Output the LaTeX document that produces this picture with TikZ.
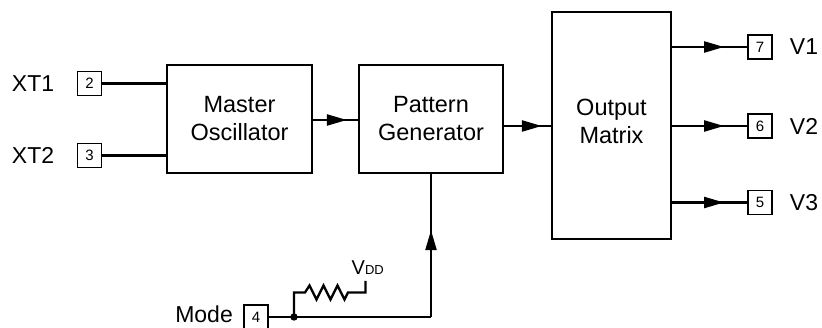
\documentclass[tikz,border=0pt]{standalone}
\usepackage{fontspec}
\setmainfont{Liberation Sans}
\usetikzlibrary{arrows.meta,decorations.markings,calc}
\tikzset{
  blk/.style={draw, line width=2.3pt, inner sep=0pt, align=center,
    font=\fontsize{23.5}{28}\selectfont},
  pin/.style={draw, line width=1.9pt, minimum width=24pt, minimum height=24pt,
    inner sep=0pt, font=\fontsize{15}{15}\selectfont},
  lbl/.style={font=\fontsize{23}{23}\selectfont, inner sep=0pt},
  wire/.style={line width=2.3pt},
  midarrow/.style={postaction={decorate}, decoration={markings,
    mark=at position #1 with {\arrow{Triangle[length=20pt,width=11pt]}}}},
}
\begin{document}
\begin{tikzpicture}[x=1pt,y=-1pt]
\useasboundingbox (0,0) rectangle (822,328);
% blocks
\node[blk, minimum width=145pt, minimum height=108pt] (mo) at (239.5,119) {Master\\Oscillator};
\node[blk, minimum width=144pt, minimum height=108pt] (pg) at (431,119) {Pattern\\Generator};
\node[blk, minimum width=119pt, minimum height=227pt] (om) at (611.5,125.5) {};
\node[blk, draw=none] (omt) at (611.5,121) {Output\\Matrix};
% input pins
\node[pin] (p2) at (89.5,83.5) {2};
\node[pin] (p3) at (89.5,155.5) {3};
\node[lbl] (xt1) at (33,83.5) {XT1};
\node[lbl] (xt2) at (33,155.5) {XT2};
% output pins
\node[pin] (p7) at (760,47) {7};
\node[pin] (p6) at (760,126) {6};
\node[pin] (p5) at (760,202.5) {5};
\node[lbl] (v1) at (804,47) {V1};
\node[lbl] (v2) at (804,126) {V2};
\node[lbl] (v3) at (804,202.5) {V3};
% mode pin
\node[pin] (p4) at (256,317) {4};
\node[lbl, anchor=east] (mode) at (233,314.5) {Mode};
% connectors
\draw[wire] (p2.east) -- (p2.east -| mo.west);
\draw[wire] (p3.east) -- (p3.east -| mo.west);
\draw[wire, midarrow=-11pt] (mo.east |- 0,120) coordinate (a1) -- (a1 -| pg.west);
\draw[wire, midarrow=-9pt] (pg.east |- 0,126) coordinate (a2) -- (a2 -| om.west);
\draw[wire, midarrow=-23pt] (om.east |- p7.west) -- (p7.west);
\draw[wire, midarrow=-23pt] (om.east |- p6.west) -- (p6.west);
\draw[wire, midarrow=-23pt] (om.east |- p5.west) -- (p5.west);
% mode line
\coordinate (dot) at (294,317);
\coordinate (corner) at (pg.south |- dot);
\draw[wire] (p4.east) -- (dot) -- (corner);
\draw[wire, midarrow=-56pt] (corner) -- (pg.south);
\fill (dot) circle (3.7pt);
% pull-up resistor
\coordinate (vdd) at (365.5,281);
\draw[wire, line join=miter] (dot) -- (294,292.5) -- (305,292.5) -- (309.5,285.5) -- (316.5,299.5)
  -- (323.5,285.5) -- (330.5,299.5) -- (337.5,285.5) -- (344.5,299.5) -- (348,292.5)
  -- (vdd |- 0,292.5) -- (vdd);
\node[anchor=base west, inner sep=0pt] (vddl) at (351.5,275)
  {\fontsize{20}{20}\selectfont V\fontsize{13}{13}\selectfont DD};
\end{tikzpicture}
\end{document}
